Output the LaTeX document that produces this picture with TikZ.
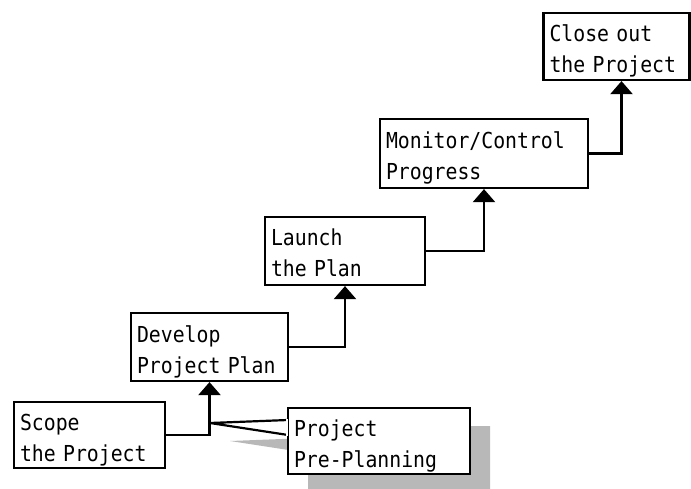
\documentclass[tikz,border=0pt]{standalone}
\usepackage{fontspec}
\newfontfamily\boxfont{DejaVu Sans Mono}[FakeStretch=0.9]
\usetikzlibrary{arrows.meta}
\tikzset{
    stage/.style={draw, line width=2.2pt, fill=white, align=left, inner xsep=6pt, inner ysep=0pt,
        font=\boxfont\fontsize{22}{31}\selectfont,
        execute at begin node={\rule{0pt}{27pt}},
        execute at end node={\rule[-6pt]{0pt}{6pt}}},
    flow/.style={line width=2.2pt, -{Triangle[width=22pt,length=13pt]}}
}
\begin{document}
\begin{tikzpicture}[x=1pt,y=1pt]
        \useasboundingbox (0,0) rectangle (691,488);

        % shadow of the pre-planning callout
        \fill[black!28] (230,47) -- (308,50) -- (308,62) -- (490,62) -- (490,-10) -- (308,-10) -- (308,35) -- cycle;

        \node[stage, text width=139pt, minimum height=66pt] (scope) at (89.5,53) {Scope\\the Project};
        \node[stage, text width=145pt, minimum height=68pt] (develop) at (209.5,141) {Develop\\Project Plan};
        \node[stage, text width=148pt, minimum height=68pt] (launch) at (345,237) {Launch\\the Plan};
        \node[stage, text width=196pt, minimum height=69pt] (monitor) at (484,334.5) {Monitor/Control\\Progress};
        \node[stage, text width=134pt, minimum height=67pt] (close) at (616.5,441.5) {Close out\\the Project};

        \coordinate (tap) at (210,65);
        \draw[flow] (scope.east) -| (develop.south);
        \draw[flow] (develop.east) -| (launch.south);
        \draw[flow] (launch.east) -| (monitor.south);
        \draw[flow] (monitor.east) -| ([xshift=5pt]close.south);

        \node[stage, text width=170pt, minimum height=66pt] (pre) at (379,47) {Project\\Pre-Planning};
        \fill[white] (tap) -- ([yshift=21pt]pre.west) -- ([yshift=6pt]pre.west) -- cycle;
        \draw[line width=2.2pt] ([xshift=1.1pt,yshift=21pt]pre.west) -- (tap) -- ([xshift=1.1pt,yshift=6pt]pre.west);
        \fill[white] ([xshift=1.1pt,yshift=4.9pt]pre.west) rectangle ([xshift=-1.1pt,yshift=22.1pt]pre.west);
\end{tikzpicture}
\end{document}
